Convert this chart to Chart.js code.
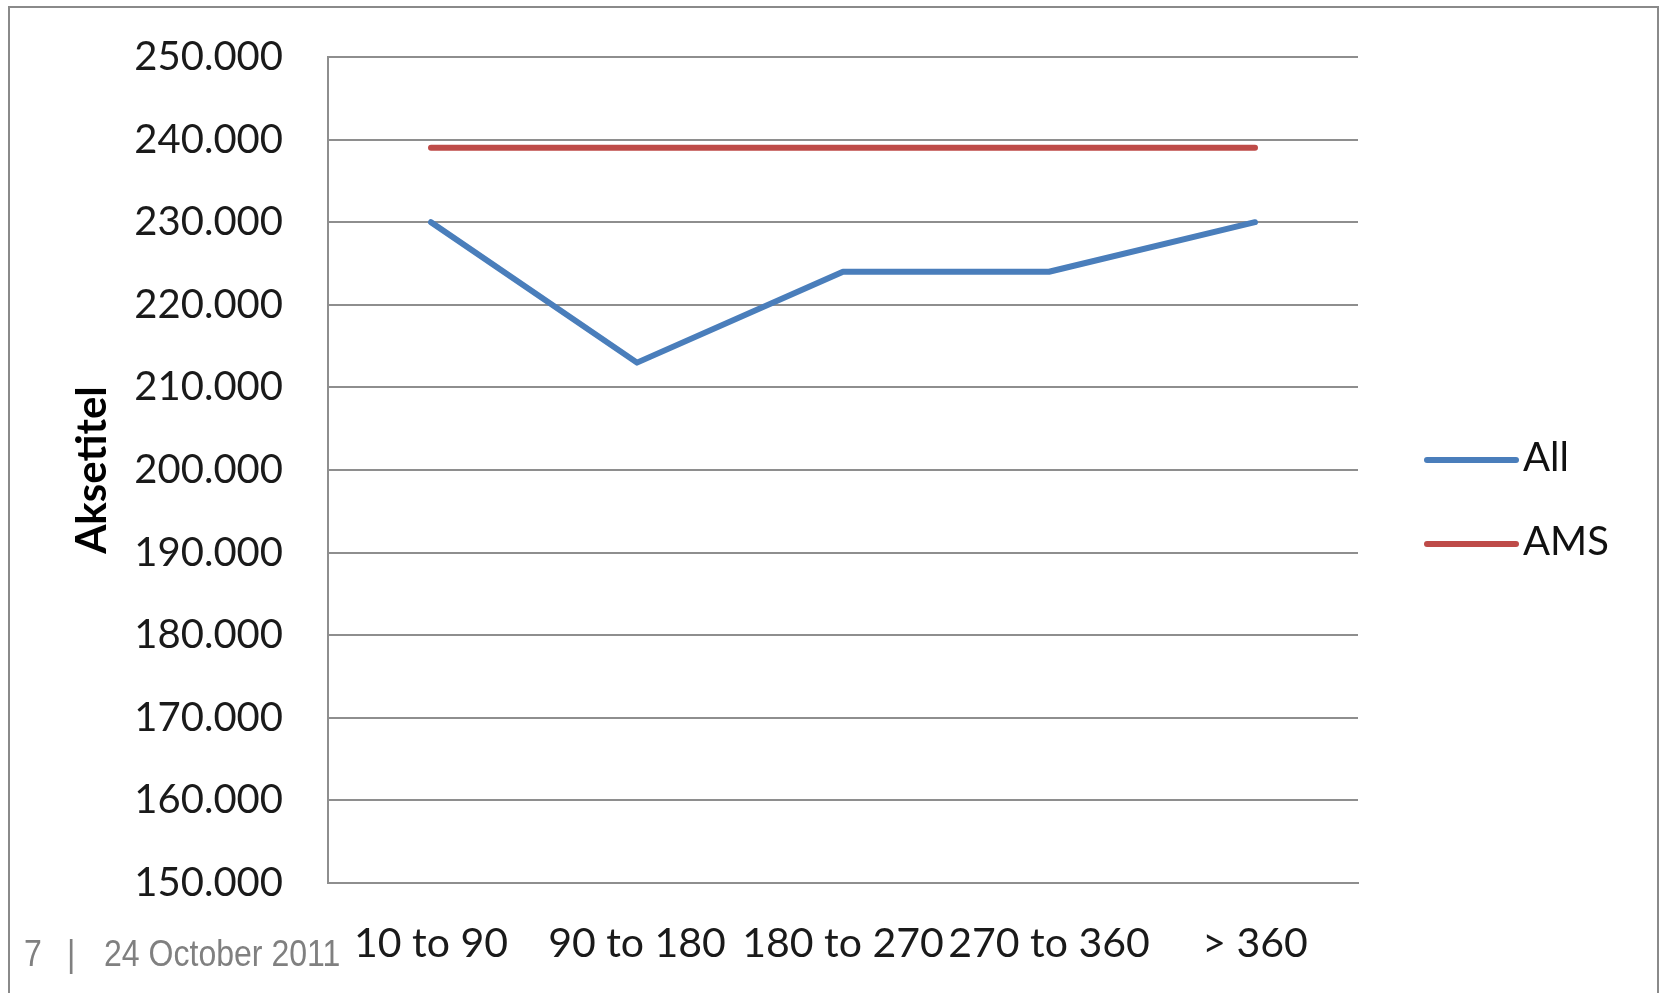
<!DOCTYPE html>
<html>
<head>
<meta charset="utf-8">
<script src="https://cdn.jsdelivr.net/npm/chart.js@4/dist/chart.umd.min.js"></script>
<style>
  html, body { margin: 0; padding: 0; background: #ffffff; overflow: hidden; }
  #wrap { position: relative; width: 1659px; height: 993px; }
  #frame {
    position: absolute; left: 8px; top: 6px; width: 1647px; height: 1100px;
    border: 2px solid #8a8a8a; box-sizing: content-box; pointer-events: none;
  }
  canvas { position: absolute; left: 0; top: 0; }
  .foot {
    position: absolute; top: 936px; font-family: "Liberation Sans", Arial, sans-serif;
    font-size: 36px; color: #808080; white-space: nowrap;
    transform: scaleX(0.89); transform-origin: left top; line-height: 1;
  }
</style>
</head>
<body>
<div id="wrap">
  <canvas id="c" width="1659" height="993"></canvas>
  <div id="frame"></div>
  <div class="foot" style="left:24px">7</div>
  <div class="foot" style="left:67px">|</div>
  <div class="foot" style="left:104px">24 October 2011</div>
</div>
<script>
// Day ranges on the x axis
const categories = ['10 to 90', '90 to 180', '180 to 270', '270 to 360', '> 360'];
// Series values
const allValues = [230000, 213000, 224000, 224000, 230000];
const amsValues = [239000, 239000, 239000, 239000, 239000];
// Value axis range
const yMin = 150000;
const yMax = 250000;
const yStep = 10000;

// Thousands separator as a dot, e.g. 250000 -> "250.000"
function fmtThousands(v) {
  return String(Math.round(v)).replace(/\B(?=(\d{3})+(?!\d))/g, '.');
}

const FONT = 'Lato, "Open Sans", sans-serif';

// Legend drawn to the right of the plot: line sample followed by the label
const sideLegend = {
  id: 'sideLegend',
  afterDraw(chart) {
    const ctx = chart.ctx;
    const area = chart.chartArea;
    const x0 = area.right + 69;
    const lineLen = 89;
    const y0 = 460;
    const gap = 84;
    ctx.save();
    chart.data.datasets.forEach((ds, i) => {
      const y = y0 + i * gap;
      ctx.strokeStyle = ds.borderColor;
      ctx.lineWidth = ds.borderWidth;
      ctx.lineCap = 'round';
      ctx.beginPath();
      ctx.moveTo(x0, y);
      ctx.lineTo(x0 + lineLen, y);
      ctx.stroke();
      ctx.fillStyle = '#111111';
      ctx.font = '40px ' + FONT;
      ctx.textBaseline = 'middle';
      ctx.textAlign = 'left';
      ctx.fillText(ds.label, x0 + lineLen + 7, y - 2);
    });
    ctx.restore();
  }
};

new Chart(document.getElementById('c'), {
  type: 'line',
  data: {
    labels: categories,
    datasets: [
      {
        label: 'All',
        data: allValues,
        borderColor: '#4A7EBB',
        borderWidth: 6,
        pointRadius: 0,
        borderJoinStyle: 'round',
        borderCapStyle: 'round',
        tension: 0,
        fill: false
      },
      {
        label: 'AMS',
        data: amsValues,
        borderColor: '#BE4B48',
        borderWidth: 6,
        pointRadius: 0,
        borderJoinStyle: 'round',
        borderCapStyle: 'round',
        tension: 0,
        fill: false
      }
    ]
  },
  options: {
    responsive: false,
    animation: false,
    devicePixelRatio: 1,
    layout: { padding: { left: 40, top: 57, right: 301, bottom: 0 } },
    plugins: {
      legend: { display: false },
      tooltip: { enabled: false },
      title: { display: false }
    },
    scales: {
      x: {
        type: 'category',
        offset: true,
        grid: { display: false, drawTicks: false },
        border: { display: true, color: '#8e8e8e', width: 2 },
        ticks: {
          autoSkip: false,
          maxRotation: 0,
          minRotation: 0,
          padding: 36,
          color: '#1a1a1a',
          font: { family: FONT, size: 41 }
        },
        afterFit(scale) { scale.height = 110; }
      },
      y: {
        min: yMin,
        max: yMax,
        // invisible tick marks keep the labels clear of the axis line
        grid: { color: '#8e8e8e', lineWidth: 2, drawTicks: true, tickLength: 45, tickColor: 'rgba(0,0,0,0)' },
        border: { display: true, color: '#8e8e8e', width: 2 },
        ticks: {
          stepSize: yStep,
          padding: 0,
          color: '#1a1a1a',
          font: { family: FONT, size: 40 },
          callback: (v) => fmtThousands(v)
        },
        title: {
          display: true,
          text: 'Aksetitel',
          color: '#000000',
          font: { family: FONT, size: 42, weight: 'bold' },
          padding: { top: 27, bottom: 0 }
        },
        afterFit(scale) { scale.width = 288; }
      }
    }
  },
  plugins: [sideLegend]
});
</script>
</body>
</html>
